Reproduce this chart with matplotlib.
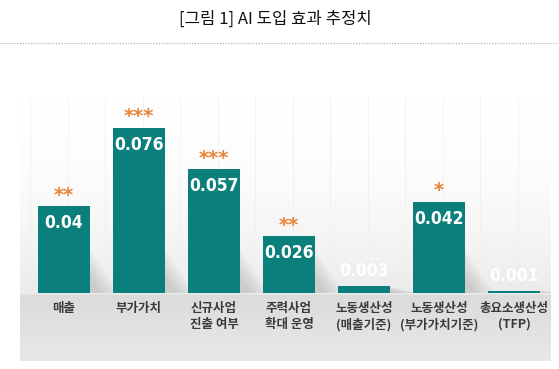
import numpy as np
import matplotlib
matplotlib.use("Agg")
import matplotlib.pyplot as plt
from matplotlib.lines import Line2D
from matplotlib.patches import Polygon

# ── data ────────────────────────────────────────────────────────
categories = ["매출", "부가가치", "신규사업\n진출 여부", "주력사업\n확대 운영",
              "노동생산성\n(매출기준)", "노동생산성\n(부가가치기준)", "총요소생산성\n(TFP)"]
values = [0.04, 0.076, 0.057, 0.026, 0.003, 0.042, 0.001]
value_labels = ["0.04", "0.076", "0.057", "0.026", "0.003", "0.042", "0.001"]
stars = ["**", "***", "***", "**", "", "*", ""]

TEAL = "#0b7f7b"
ORANGE = "#e8843a"
KR = ["Noto Sans CJK KR", "DejaVu Sans"]

W, H = 559, 369
fig = plt.figure(figsize=(W / 100, H / 100), dpi=100, facecolor="white")

def px_rect(x0, y0, x1, y1):
    # pixel box (top-left origin) -> figure fraction rect
    return [x0 / W, 1 - y1 / H, (x1 - x0) / W, (y1 - y0) / H]

# ── title + dotted rule ────────────────────────────────────────
fig.text(275 / W, 1 - 19 / H, "[그림 1] AI 도입 효과 추정치", ha="center", va="center",
         fontsize=12, family=KR, fontweight="medium", color="#111111")
fig.add_artist(Line2D([0, 1], [1 - 43 / H] * 2, transform=fig.transFigure,
                      color="#c9a09a", lw=0.8, ls=(0, (1, 1.5))))

# ── panel background (gradient) ───────────────────────────────
pt, pb, base_px = 98, 361, 293
bg = fig.add_axes(px_rect(20, pt, 551, pb))
ys = np.linspace(pt, pb, 400)
split = base_px + 2
upper = 1.0 - 0.08 * ((ys - pt) / (split - pt)) ** 2
lower = 0.86 + 0.05 * (ys - split) / (pb - split)
shade = np.where(ys < split, upper, lower)
grad = np.repeat(shade[:, None], 2, axis=1)
bg.imshow(np.dstack([grad] * 3), aspect="auto", extent=[0, 1, 1, 0])
bg.set_axis_off()

# ── bars ────────────────────────────────────────────────────────
ppu = 2175.0            # pixels per value unit
step = 75.0             # pixels between bar centres
ax = fig.add_axes(px_rect(20, pt, 551, base_px))
ax.patch.set_alpha(0)
x = np.arange(len(values))
ax.set_xlim((20 - 64) / step, (551 - 64) / step)
ax.set_ylim(0, (base_px - pt) / ppu)
ax.axis("off")

# faint vertical guide lines
for gx in np.arange(-0.45, 6.6, 0.5):
    ax.axvline(gx, color="#f0f0f0", lw=0.6, zorder=0)

bw = 52 / step
# soft shadows to the right of each bar (stacked, fading)
for xi, v in zip(x, values):
    hs = min(v, 0.02)
    for k in np.linspace(0.4, 1.0, 6):
        ax.add_patch(Polygon([(xi + bw / 2, 0), (xi + bw / 2, hs * k),
                              (xi + bw / 2 + 0.38 * k, 0)], closed=True,
                             facecolor="#8a8a8a", edgecolor="none", alpha=0.06, zorder=2))

ax.bar(x, values, width=bw, color=TEAL, zorder=3)

for xi, v, lab, st, cat in zip(x, values, value_labels, stars, categories):
    if v > 0.01:
        ax.text(xi, v - 17 / ppu, lab, ha="center", va="center", color="white",
                fontsize=12.5, fontweight="bold", family="DejaVu Sans",
                fontstretch="condensed", zorder=4)
    else:
        ax.text(xi, v + 15 / ppu, lab, ha="center", va="center", color="white",
                fontsize=12.5, fontweight="bold", family="DejaVu Sans",
                fontstretch="condensed", zorder=4)
    if st:
        ax.text(xi, v + 11 / ppu, st, ha="center", va="center", color=ORANGE,
                fontsize=14, fontweight="bold", family="DejaVu Sans", zorder=4)
    ax.text(xi, -9 / ppu, cat, ha="center", va="top", color="#3a3a3a",
            fontsize=9, fontweight="bold", family=KR,
            linespacing=1.3, clip_on=False)

fig.savefig("out.png", dpi=100, facecolor="white")
